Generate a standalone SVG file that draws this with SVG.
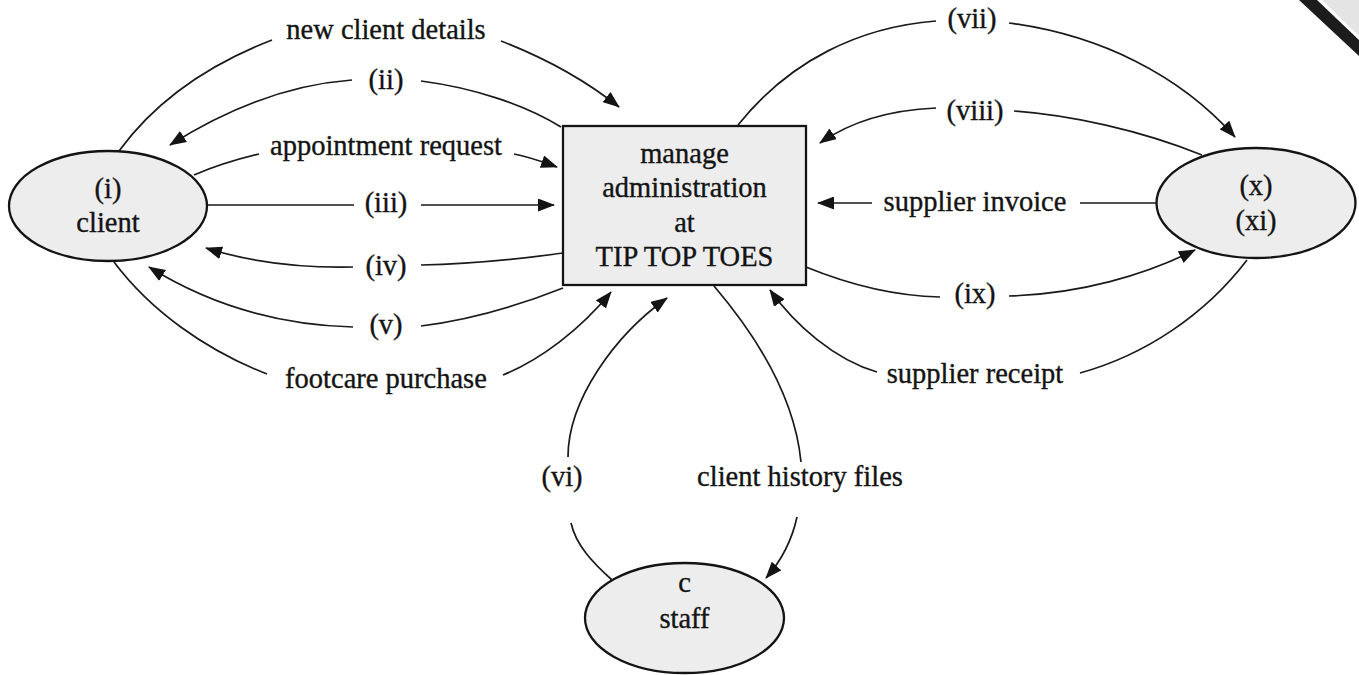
<svg xmlns="http://www.w3.org/2000/svg" width="1359" height="675" viewBox="0 0 1359 675">
  <style>
    .node { fill: #ededed; stroke: #141414; stroke-width: 2.3; }
    .txt { font-family: "Liberation Serif", "Times New Roman", serif; font-size: 28.5px; fill: #141414; stroke: #141414; stroke-width: 0.35; text-anchor: middle; }
    .flow { fill: none; stroke: #1a1a1a; stroke-width: 1.7; marker-end: url(#arrow); }
  </style>
  <defs>
    <marker id="arrow" markerUnits="userSpaceOnUse" markerWidth="17" markerHeight="13" refX="16" refY="6.5" orient="auto">
      <path d="M0,0 L17,6.5 L0,13 Z" fill="#141414"/>
    </marker>
  </defs>

  <rect width="1359" height="675" fill="#ffffff"/>

  <!-- turned-over page corner -->
  <polygon points="1322,0 1359,0 1359,36" fill="#e4e4e4"/>
  <polygon points="1299,0 1317,0 1359,40 1359,56" fill="#1c1c1c"/>

  <!-- data flows -->
  <g id="connectors">
    <!-- new client details -->
    <path class="flow" d="M119,151 C160,95 215,62 272,40 M501,41 C545,58 585,80 619,107"/>
    <!-- (ii) -->
    <path class="flow" d="M561,127 C525,105 475,88 421,81 M352,80 C285,85 225,110 170,145"/>
    <!-- appointment request -->
    <path class="flow" d="M194,175 C215,166 238,159 259,154 M514,154 C530,157 543,162 557,167"/>
    <!-- (iii) -->
    <path class="flow" d="M206,205 L354,205 M421,205 L554,205"/>
    <!-- (iv) -->
    <path class="flow" d="M563,253 C520,259 470,264 421,265 M353,267 C300,268 250,262 206,248"/>
    <!-- (v) -->
    <path class="flow" d="M563,288 C520,305 470,320 421,326 M353,327 C280,325 210,305 149,267"/>
    <!-- footcare purchase -->
    <path class="flow" d="M114,262 C150,310 205,350 267,374 M503,375 C540,360 580,330 611,292"/>
    <!-- (vi) -->
    <path class="flow" d="M612,580 C592,562 576,545 571,523 M568,457 C568,400 615,335 667,298"/>
    <!-- client history files -->
    <path class="flow" d="M714,286 C760,340 795,400 801,462 M797,517 C792,540 782,560 766,578"/>
    <!-- (vii) -->
    <path class="flow" d="M738,125 C790,60 860,27 936,21 M1009,23 C1100,35 1180,75 1235,137"/>
    <!-- (viii) -->
    <path class="flow" d="M1202,155 C1140,130 1070,115 1014,111 M936,108 C890,110 850,122 820,143"/>
    <!-- supplier invoice -->
    <path class="flow" d="M1157,203 L1080,203 M872,203 L818,203"/>
    <!-- (ix) -->
    <path class="flow" d="M806,267 C850,285 895,296 940,297 M1009,296 C1080,294 1145,275 1195,250"/>
    <!-- supplier receipt -->
    <path class="flow" d="M1247,260 C1205,315 1145,355 1080,373 M877,372 C835,360 795,325 770,290"/>

    <text class="txt" x="386" y="39">new client details</text>
    <text class="txt" x="386" y="89">(ii)</text>
    <text class="txt" x="386" y="155">appointment request</text>
    <text class="txt" x="386" y="212">(iii)</text>
    <text class="txt" x="386" y="275">(iv)</text>
    <text class="txt" x="386" y="334">(v)</text>
    <text class="txt" x="386" y="388">footcare purchase</text>
    <text class="txt" x="562" y="486">(vi)</text>
    <text class="txt" x="800" y="486">client history files</text>
    <text class="txt" x="972" y="28">(vii)</text>
    <text class="txt" x="975" y="120">(viii)</text>
    <text class="txt" x="975" y="211">supplier invoice</text>
    <text class="txt" x="975" y="303">(ix)</text>
    <text class="txt" x="975" y="383">supplier receipt</text>
  </g>

  <!-- process -->
  <g id="process">
    <rect class="node" x="563" y="126" width="243" height="159"/>
    <text class="txt" x="684.5" y="163">manage</text>
    <text class="txt" x="684.5" y="197">administration</text>
    <text class="txt" x="684.5" y="232">at</text>
    <text class="txt" x="684.5" y="266">TIP TOP TOES</text>
  </g>

  <!-- external entities -->
  <g id="client">
    <ellipse class="node" cx="108" cy="206" rx="99" ry="55"/>
    <text class="txt" x="108" y="198">(i)</text>
    <text class="txt" x="108" y="232">client</text>
  </g>

  <g id="supplier">
    <ellipse class="node" cx="1256" cy="203" rx="99.5" ry="55"/>
    <text class="txt" x="1256" y="195">(x)</text>
    <text class="txt" x="1256" y="230">(xi)</text>
  </g>

  <g id="staff">
    <ellipse class="node" cx="684.5" cy="618" rx="99.5" ry="55"/>
    <text class="txt" x="684.5" y="592">c</text>
    <text class="txt" x="684.5" y="628">staff</text>
  </g>
</svg>
